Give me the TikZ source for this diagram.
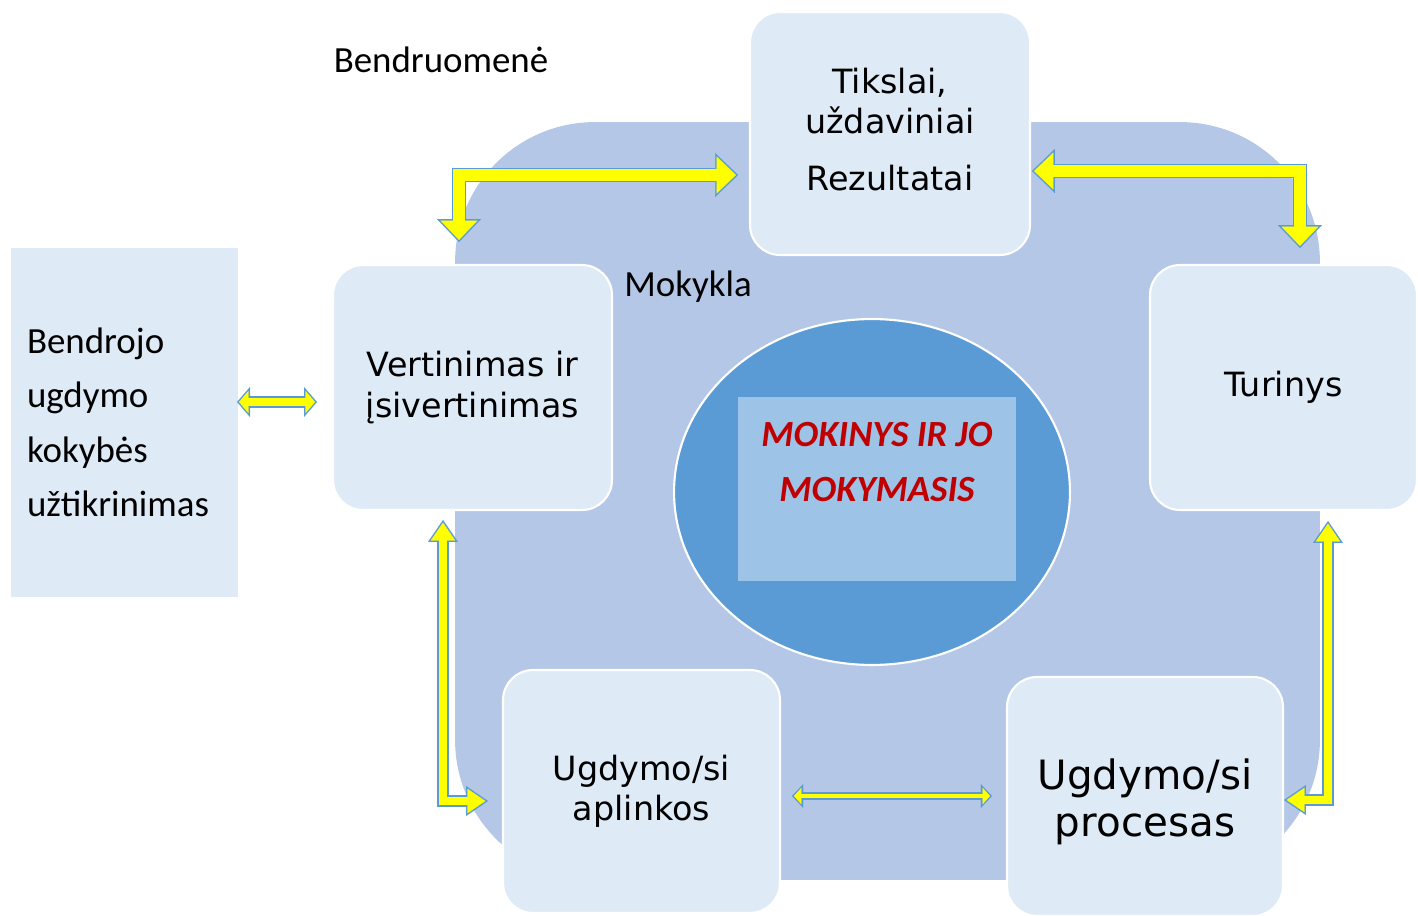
\documentclass[tikz,border=0pt]{standalone}
\usepackage{fontspec}
\setmainfont{Carlito}
\newfontfamily\cardfont{DejaVu Sans}
\usetikzlibrary{arrows.meta,shapes.geometric}
\definecolor{schoolblue}{HTML}{B4C7E7}
\definecolor{cardblue}{HTML}{DEEBF7}
\definecolor{pupilblue}{HTML}{5B9BD5}
\definecolor{learnblue}{HTML}{9DC3E6}
\definecolor{learnred}{HTML}{C00000}
\definecolor{arrowyellow}{HTML}{FFFF00}
\definecolor{arrowedge}{HTML}{5B9BD5}
\tikzset{%
  bigtip/.tip={Triangle[width=25pt,length=13pt,line width=0.1pt]},
  bigin/.tip={Triangle[width=21pt,length=10.9pt,line width=0.1pt]},
  midtip/.tip={Triangle[width=17pt,length=12.5pt,line width=0.1pt]},
  midin/.tip={Triangle[width=13.8pt,length=10.1pt,line width=0.1pt]},
  lowtip/.tip={Triangle[width=17pt,length=7.4pt,line width=0.1pt]},
  lowin/.tip={Triangle[width=12.5pt,length=5.4pt,line width=0.1pt]},
  smalltip/.tip={Triangle[width=13.6pt,length=6.4pt,line width=0.1pt]},
  smallin/.tip={Triangle[width=9.4pt,length=4.3pt,line width=0.1pt]},
  card/.style={rectangle,rounded corners=0.6cm,fill=cardblue,draw=white,line width=1.2pt,
    align=center,font=\cardfont\fontsize{19}{23}\selectfont},
  label/.style={font=\fontsize{21}{31}\selectfont},
  bigarrow/.style={draw=arrowedge,line width=8.5pt,line join=miter,arrows={bigtip-bigtip},
    postaction={draw=arrowyellow,line width=6.8pt,arrows={bigin-bigin},shorten >=1.2pt,shorten <=1.2pt}},
  midarrow/.style={draw=arrowedge,line width=6.8pt,line join=miter,arrows={midtip-midtip},
    postaction={draw=arrowyellow,line width=5.1pt,arrows={midin-midin},shorten >=1.5pt,shorten <=1.5pt}},
  lowarrow/.style={draw=arrowedge,line width=6.8pt,arrows={lowtip-lowtip},
    postaction={draw=arrowyellow,line width=5.1pt,arrows={lowin-lowin},shorten >=1.1pt,shorten <=1.1pt}},
  smallarrow/.style={draw=arrowedge,line width=4.5pt,arrows={smalltip-smalltip},
    postaction={draw=arrowyellow,line width=2.8pt,arrows={smallin-smallin},shorten >=1.1pt,shorten <=1.1pt}}
}
\begin{document}
\begin{tikzpicture}[x=0.02cm,y=-0.02cm]%
\useasboundingbox (0,0) rectangle (1418,916);%
% school and pupil in the middle
\node[fill=schoolblue,rounded corners=2.8cm,minimum width=17.3cm,minimum height=15.16cm] (school) at (887.5,501) {}; %%
\node[ellipse,fill=pupilblue,draw=white,line width=1.2pt,minimum width=7.92cm,minimum height=6.92cm] (pupil) at (872,492) {}; %%
\node[fill=learnblue,minimum width=5.56cm,minimum height=3.68cm] (learning) at (877,489) {}; %%
\node[font=\fontsize{21}{31}\selectfont\bfseries\itshape,text=learnred,align=center] (learntext) at (877,462) {MOKINYS IR JO\\MOKYMASIS}; %%
% the five cards
\begin{scope}[every node/.style=card]%
\node[minimum width=5.6cm,minimum height=4.86cm] (goals) at (890,133.5) {Tikslai,\\uždaviniai\\[9pt]Rezultatai\rule[-5pt]{0pt}{0pt}}; %%
\node[minimum width=5.58cm,minimum height=4.9cm] (assess) at (472.5,387.5) {Vertinimas ir\\įsivertinimas}; %%
\node[minimum width=5.34cm,minimum height=4.9cm] (content) at (1283.5,387.5) {Turinys}; %%
\node[minimum width=5.54cm,minimum height=4.86cm] (environ) at (641.5,791.5) {Ugdymo/si\\aplinkos}; %%
\node[minimum width=5.52cm,minimum height=4.78cm,font=\cardfont\fontsize{23}{27}\selectfont] (process) at (1145,796.5) {\rule{0pt}{23.5pt}Ugdymo/si\\procesas}; %%
\end{scope}
\node[fill=cardblue,minimum width=4.54cm,minimum height=6.98cm,text width=3.9cm,align=left,label] (quality) at (124.5,422.5) {Bendrojo\\ugdymo\\kokybės\\užtikrinimas}; %%
\node[label] (community) at (441,60) {Bendruomenė}; %%
\node[label] (schoollabel) at (688,287) {Mokykla}; %%
% arrow ends
\coordinate (g1) at (738,175); %%
\coordinate (a1) at (459,242); %%
\coordinate (g2) at (1032,171); %%
\coordinate (c1) at (1300,248); %%
\coordinate (q1) at (237,402); %%
\coordinate (a2) at (317,402); %%
\coordinate (a3) at (443,520); %%
\coordinate (e1) at (488,801); %%
\coordinate (c2) at (1328,521); %%
\coordinate (p1) at (1284,800); %%
\coordinate (e2) at (792,796); %%
\coordinate (p2) at (992,796); %%
\draw[bigarrow] (g1) -| (a1); %%
\draw[bigarrow] (g2) -| (c1); %%
\draw[lowarrow] (q1) -- (a2); %%
\draw[midarrow] (a3) |- (e1); %%
\draw[midarrow] (c2) |- (p1); %%
\draw[smallarrow] (e2) -- (p2); %%
\end{tikzpicture}
\end{document}
